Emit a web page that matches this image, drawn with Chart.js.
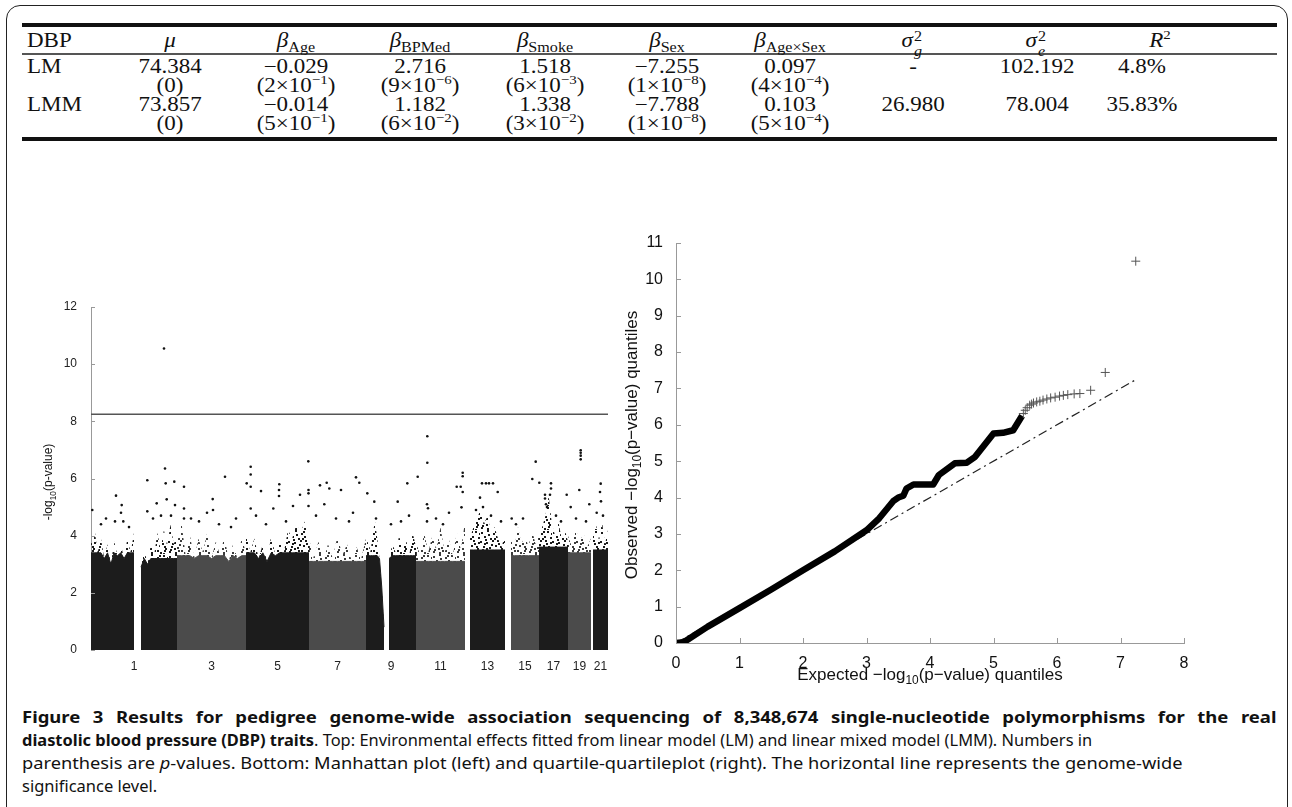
<!DOCTYPE html>
<html>
<head>
<meta charset="utf-8">
<script src="https://cdn.jsdelivr.net/npm/chart.js"></script>
<style>
body{margin:0;background:#fff;width:1292px;height:807px;overflow:hidden;position:relative;color:#111}
#frame{position:absolute;left:6px;top:5px;width:1280px;height:900px;border:1.5px solid #222;border-radius:14px}
.rule{position:absolute;left:22px;width:1255px;background:#111}
.cell{position:absolute;width:140px;margin-left:-70px;text-align:center;font:20px "Liberation Serif",serif;line-height:22px;white-space:nowrap;transform:scaleX(1.15)}
.cell.left{width:auto;margin-left:0;text-align:left;transform-origin:left center}
.cell sub{font-size:14px;vertical-align:-5px;line-height:0}
.cell sup{font-size:13px;vertical-align:8px;line-height:0}
.ss{display:inline-block;position:relative;width:10px;height:10px}
.ss .up{position:absolute;left:1px;top:-11px;font-size:14px}
.ss .dn{position:absolute;left:1px;top:4px;font-size:14px;font-style:italic}
.cap{position:absolute;left:22px;font:16.5px "Noto Sans",sans-serif;line-height:23px;white-space:nowrap;color:#111;transform-origin:left center}
.cap b{font-weight:700}
.cap.just{text-align:justify;text-align-last:justify}
canvas{position:absolute}
</style>
</head>
<body>
<div id="frame"></div>
<div class="rule" style="top:23px;height:4px"></div>
<div class="rule" style="top:53px;height:1.5px;background:#555"></div>
<div class="rule" style="top:137px;height:4px"></div>
<div id="table"></div>

<canvas id="manhattan" width="640" height="380" style="left:0;top:290px"></canvas>
<canvas id="qq" width="700" height="480" style="left:560px;top:220px"></canvas>

<div class="cap just" style="top:705px;width:1120px;transform:scaleX(1.12)"><b>Figure 3 Results for pedigree genome-wide association sequencing of 8,348,674 single-nucleotide polymorphisms for the real</b></div>
<div class="cap fit" style="top:728px"><b>diastolic blood pressure (DBP) traits</b>. Top: Environmental effects fitted from linear model (LM) and linear mixed model (LMM). Numbers in</div>
<div class="cap fit" style="top:751px">parenthesis are <i>p</i>-values. Bottom: Manhattan plot (left) and quartile-quartileplot (right). The horizontal line represents the genome-wide</div>
<div class="cap" style="top:774px">significance level.</div>

<script>
// ---- table ----
const colHeads = ['<i>μ</i>', '<i>β</i><sub>Age</sub>', '<i>β</i><sub>BPMed</sub>', '<i>β</i><sub>Smoke</sub>',
  '<i>β</i><sub>Sex</sub>', '<i>β</i><sub>Age×Sex</sub>',
  '<i>σ</i><span class="ss"><span class="up">2</span><span class="dn">g</span></span>',
  '<i>σ</i><span class="ss"><span class="up">2</span><span class="dn">e</span></span>',
  '<i>R</i><sup>2</sup>'];
const lmVals = ['74.384', '−0.029', '2.716', '1.518', '−7.255', '0.097', '-', '102.192', '4.8%'];
const lmP = ['(0)', '(2×10<sup>−1</sup>)', '(9×10<sup>−6</sup>)', '(6×10<sup>−3</sup>)', '(1×10<sup>−8</sup>)', '(4×10<sup>−4</sup>)', '', '', ''];
const lmmVals = ['73.857', '−0.014', '1.182', '1.338', '−7.788', '0.103', '26.980', '78.004', '35.83%'];
const lmmP = ['(0)', '(5×10<sup>−1</sup>)', '(6×10<sup>−2</sup>)', '(3×10<sup>−2</sup>)', '(1×10<sup>−8</sup>)', '(5×10<sup>−4</sup>)', '', '', ''];
const headX = [170, 296, 420, 545, 667, 790, 913, 1037, 1160];
const colX = [170, 296, 420, 545, 667, 790, 913, 1037, 1142];
const rowY = [40, 66, 85, 104, 123];

let html = '';
const put = (x, y, s, cls) => { html += `<div class="cell ${cls || ''}" style="left:${x}px;top:${y - 11}px">${s}</div>`; };
put(27, rowY[0], 'DBP', 'left');
put(27, rowY[1], 'LM', 'left');
put(27, rowY[3], 'LMM', 'left');
colHeads.forEach((s, i) => put(headX[i], rowY[0], s));
[lmVals, lmP, lmmVals, lmmP].forEach((row, r) => {
  row.forEach((s, i) => { if (s) put(colX[i], rowY[r + 1], s); });
});
document.getElementById('table').innerHTML = html;

// caption lines 2 and 3 stretched to the reference line lengths
const capWidths = [1070, 1161];
document.querySelectorAll('.cap.fit').forEach((el, i) => {
  el.style.transform = `scaleX(${capWidths[i] / el.scrollWidth})`;
});

// ---- manhattan data ----
const chrLabels = ['1', '3', '5', '7', '9', '11', '13', '15', '17', '19', '21'];
const chrLabelPos = [43, 120.5, 186.5, 246.5, 300, 349.5, 396.5, 434, 462.5, 488.5, 509.5];
const segStart = [0, 50, 86, 155, 218, 275, 298, 325, 379, 420, 448, 477, 502];
const segEnd   = [43, 86, 155, 218, 275, 293, 325, 374, 414, 448, 477, 500, 517];
const segShade = ['k', 'k', 'g', 'k', 'g', 'k', 'k', 'g', 'k', 'g', 'k', 'g', 'k'];
const segCore  = [3.4, 3.2, 3.3, 3.4, 3.1, 3.3, 3.3, 3.1, 3.5, 3.3, 3.6, 3.4, 3.5];
const segTops = [
  [3.7, 4.3, 3.4, 3.9, 3.2, 3.7, 3.0, 3.8, 3.3, 3.7, 3.2, 3.9, 3.4, 4.1],
  [2.9, 3.5, 3.0, 3.7, 3.3, 4.1, 3.5, 4.2, 3.6, 4.4, 3.7, 4.0],
  [3.7, 4.5, 3.3, 4.0, 3.2, 3.9, 3.4, 4.1, 3.2, 3.8, 3.3, 4.0, 3.1, 3.7, 3.2, 3.9, 3.4],
  [4.1, 3.4, 3.9, 3.2, 3.7, 3.1, 4.0, 3.3, 3.8, 3.4, 4.2, 3.9, 4.4, 4.1, 4.5, 3.7],
  [3.9, 3.2, 3.8, 3.1, 3.7, 3.2, 4.0, 3.3, 3.7, 3.1, 3.6, 3.2, 3.9],
  [3.6, 3.9, 3.4, 4.1, 4.5, 3.9, 3.2, 2.2, 0.8],
  [3.2, 3.7, 3.4, 4.0, 3.5, 3.9, 3.3, 4.1, 3.6],
  [3.8, 3.3, 4.1, 3.4, 4.0, 3.5, 4.3, 3.4, 3.9, 3.3, 4.1, 3.5, 4.5],
  [3.9, 4.3, 4.6, 4.9, 4.4, 4.7, 4.1, 4.3, 3.9, 3.6, 4.0],
  [4.1, 3.6, 4.3, 3.7, 4.0, 3.6, 4.2, 3.7, 4.0],
  [3.9, 4.3, 4.7, 5.4, 4.4, 4.0, 4.5, 3.9, 4.2, 3.8],
  [4.0, 3.6, 4.3, 3.7, 4.1, 3.6, 3.9],
  [4.0, 4.4, 3.8, 4.5, 3.7, 4.2]
];
const hits = [
  [1.3, 4.9], [25, 5.4], [30.7, 5.07], [30, 4.8], [24, 4.5], [32.3, 4.5], [56.3, 5.94], [56.3, 4.85], [65.7, 5.13],
  [73, 10.55], [74, 6.35], [74.7, 5.83], [75.7, 5.27], [83.3, 5.89], [84, 5.07], [93, 5.71], [93, 4.95], [93, 4.6],
  [121.7, 5.28], [122, 4.9], [134, 6.06], [116, 4.8], [155.7, 5.83], [159.7, 6.41], [159.7, 6.14], [159.7, 5.71],
  [159.7, 4.95], [170, 5.56], [182.3, 4.95], [188.3, 5.8], [188, 5.6], [188, 5.39], [202, 5.04], [209, 5.43],
  [217.3, 6.6], [217.5, 5.6], [217.5, 5.48], [217.5, 5.04], [229, 5.76], [235.7, 5.85], [238.3, 5.65], [233.3, 5.1],
  [250, 5.6], [265, 6.04], [268.3, 5.85], [276.3, 5.48], [283.3, 5.19], [300, 4.4], [306.7, 5.19], [316.3, 5.83],
  [326.7, 6.06], [336.3, 7.48], [336.3, 6.55], [336, 5.1], [337, 4.96], [336, 4.5], [365.7, 5.71], [369.7, 5.71],
  [371.7, 6.2], [371.7, 6.08], [371.7, 5.53], [370.5, 4.99], [389, 5.33], [391, 5.83], [395, 5.83], [398, 5.83],
  [402, 5.83], [406.7, 5.53], [392, 5.0], [420.7, 4.6], [441.3, 5.98], [444.7, 6.59], [448.3, 5.85], [454, 5.43],
  [454, 5.3], [455, 5.1], [456, 5.0], [460, 5.83], [460, 5.65], [459, 5.43], [475.7, 5.43], [479.7, 5.0],
  [488.3, 5.6], [489.7, 6.99], [489.7, 6.9], [489.7, 6.8], [489.7, 6.67], [498.3, 5.1], [505.7, 4.8], [509.7, 5.82],
  [509, 5.53], [510, 5.2],
  [10, 4.4], [15, 4.6], [38, 4.3], [62, 4.6], [70, 4.7], [80, 4.7], [100, 4.6], [108, 4.5], [128, 4.4], [140, 4.3],
  [145, 4.6], [165, 4.7], [175, 4.4], [195, 4.5], [225, 4.7], [245, 4.6], [258, 4.5], [262, 4.8], [285, 4.6],
  [310, 4.5], [318, 4.7], [345, 4.6], [352, 4.4], [358, 4.8], [385, 4.9], [400, 4.7], [410, 4.5], [425, 4.4],
  [432, 4.6], [465, 4.7], [470, 4.5], [485, 4.6], [495, 4.5], [512, 4.7]
];
const threshold = 8.25;

// ---- qq data ----
const qqExpected = [0, 0.12, 0.5, 1, 1.5, 2, 2.5, 3, 3.2, 3.42, 3.5, 3.58, 3.63, 3.74, 4.05, 4.14, 4.39, 4.58, 4.71, 5.0, 5.15, 5.31, 5.45];
const qqObserved = [0, 0.02, 0.45, 0.96, 1.47, 2.0, 2.52, 3.1, 3.43, 3.9, 4.0, 4.05, 4.25, 4.36, 4.36, 4.62, 4.94, 4.96, 5.12, 5.76, 5.78, 5.85, 6.25];
const tailExpected = [5.47, 5.5, 5.53, 5.57, 5.6, 5.63, 5.68, 5.73, 5.78, 5.84, 5.9, 5.97, 6.04, 6.1, 6.17, 6.27, 6.36, 6.53, 6.76, 7.24];
const tailObserved = [6.31, 6.4, 6.47, 6.54, 6.57, 6.6, 6.63, 6.65, 6.68, 6.71, 6.74, 6.76, 6.79, 6.81, 6.83, 6.85, 6.86, 6.95, 7.44, 10.5];
const refLine = [0, 7.22];

// ---- helpers ----
// speckle fill for the thinning upper edge of each chromosome band
function dotPattern(color) {
  const c = document.createElement('canvas'); c.width = 24; c.height = 24;
  const g = c.getContext('2d'); g.fillStyle = color;
  [[1, 2], [7, 0], [13, 3], [19, 1], [4, 6], [10, 8], [16, 6], [22, 7], [0, 11], [6, 12], [12, 10], [18, 13],
   [3, 16], [9, 17], [15, 15], [21, 18], [1, 21], [7, 22], [13, 20], [19, 23], [11, 14], [5, 9], [17, 10],
   [23, 3], [2, 19], [8, 4], [14, 8], [20, 16], [4, 13], [10, 20], [16, 22], [22, 12], [6, 18], [15, 1], [20, 20]]
    .forEach(p => g.fillRect(p[0], p[1], 2, 2));
  return g.createPattern(c, 'repeat');
}

function drawSub(ctx, x, y, rot, size, parts) {
  ctx.save();
  ctx.translate(x, y);
  ctx.rotate(rot);
  ctx.fillStyle = '#111';
  ctx.textBaseline = 'middle';
  let w = 0;
  parts.forEach(p => { ctx.font = `${p[1] ? size * 0.7 : size}px "Liberation Sans", Arial`; w += ctx.measureText(p[0]).width; });
  let cx = -w / 2;
  parts.forEach(p => {
    ctx.font = `${p[1] ? size * 0.7 : size}px "Liberation Sans", Arial`;
    ctx.fillText(p[0], cx, p[1] ? size * 0.35 : 0);
    cx += ctx.measureText(p[0]).width;
  });
  ctx.restore();
}

const axisDecor = {
  id: 'axisDecor',
  afterDraw(chart, args, o) {
    const ctx = chart.ctx, a = chart.chartArea;
    ctx.save();
    ctx.strokeStyle = '#999';
    ctx.lineWidth = 1;
    chart.scales.y.ticks.forEach(t => {
      const y = Math.round(chart.scales.y.getPixelForValue(t.value)) + 0.5;
      ctx.beginPath(); ctx.moveTo(a.left, y); ctx.lineTo(a.left + o.len, y); ctx.stroke();
    });
    if (o.xTicks) {
      chart.scales.x.ticks.forEach(t => {
        const x = Math.round(chart.scales.x.getPixelForValue(t.value)) + 0.5;
        ctx.beginPath(); ctx.moveTo(x, a.bottom); ctx.lineTo(x, a.bottom - o.len); ctx.stroke();
      });
    }
    ctx.restore();
    o.titles.forEach(t => drawSub(ctx, t.x, t.y, t.rot, t.size, t.parts));
  }
};

Chart.defaults.font.family = '"Liberation Sans", Arial, sans-serif';
Chart.defaults.color = '#111';

// ---- manhattan chart ----
const mDatasets = [];
mDatasets.push({
  type: 'scatter', order: 0,
  data: hits.map(h => ({ x: h[0], y: h[1] })),
  pointRadius: 1.3, pointBackgroundColor: '#111', pointBorderWidth: 0
});
mDatasets.push({
  type: 'line', order: 0,
  data: [{ x: 0, y: threshold }, { x: 517, y: threshold }],
  borderColor: '#555', borderWidth: 1.5, pointRadius: 0
});
const patK = dotPattern('#1a1a1a'), patG = dotPattern('#3c3c3c');
segStart.forEach((s, i) => {
  const tops = segTops[i], n = tops.length, e = segEnd[i];
  const xs = tops.map((v, j) => s + (e - s) * j / (n - 1));
  const dark = segShade[i] === 'k';
  mDatasets.push({
    type: 'line', order: 1,
    data: tops.map((v, j) => ({ x: xs[j], y: Math.min(v, segCore[i]) })),
    fill: 'origin', backgroundColor: dark ? '#1c1c1c' : '#4b4b4b',
    borderColor: dark ? '#1c1c1c' : '#4b4b4b', borderWidth: 1, pointRadius: 0, tension: 0
  });
  mDatasets.push({
    type: 'line', order: 2,
    data: tops.map((v, j) => ({ x: xs[j], y: v })),
    fill: 'origin', backgroundColor: dark ? patK : patG,
    borderWidth: 0, pointRadius: 0, tension: 0
  });
});

new Chart(document.getElementById('manhattan'), {
  type: 'scatter',
  data: { datasets: mDatasets },
  options: {
    responsive: false, animation: false, events: [],
    layout: { padding: { top: 17, right: 32, left: 0, bottom: 0 } },
    plugins: {
      legend: { display: false }, tooltip: { enabled: false },
      axisDecor: { len: 4, xTicks: false, titles: [
        { x: 49, y: 192, rot: -Math.PI / 2, size: 12, parts: [['-log', 0], ['10', 1], ['(p-value)', 0]] }
      ] }
    },
    scales: {
      x: {
        type: 'linear', min: 0, max: 517,
        grid: { display: false }, border: { display: false },
        afterBuildTicks: s => { s.ticks = chrLabelPos.map(v => ({ value: v })); },
        ticks: { autoSkip: false, maxRotation: 0, font: { size: 12 }, color: '#222', padding: 1,
          callback: (v, i) => chrLabels[i] },
        afterFit: s => { s.height = 20; }
      },
      y: {
        min: 0, max: 12,
        grid: { display: false }, border: { color: '#999', width: 1 },
        ticks: { stepSize: 2, font: { size: 12 }, color: '#222', padding: 6 },
        afterFit: s => { s.width = 91; }
      }
    }
  },
  plugins: [axisDecor]
});

// ---- qq chart ----
new Chart(document.getElementById('qq'), {
  type: 'scatter',
  data: {
    datasets: [
      {
        type: 'scatter', order: 0,
        data: tailExpected.map((v, i) => ({ x: v, y: tailObserved[i] })),
        pointStyle: 'cross', pointRadius: 4.5, borderColor: '#555', pointBorderColor: '#555', pointBorderWidth: 1
      },
      {
        type: 'line', order: 1,
        data: qqExpected.map((v, i) => ({ x: v, y: qqObserved[i] })),
        borderColor: '#000', borderWidth: 6.5, pointRadius: 0, tension: 0, borderJoinStyle: 'round'
      },
      {
        type: 'line', order: 2,
        data: [{ x: refLine[0], y: refLine[0] }, { x: refLine[1], y: refLine[1] }],
        borderColor: '#222', borderWidth: 1.2, borderDash: [9, 4, 2, 4], pointRadius: 0
      }
    ]
  },
  options: {
    responsive: false, animation: false, events: [],
    layout: { padding: { top: 23, right: 76, left: 0, bottom: 0 } },
    plugins: {
      legend: { display: false }, tooltip: { enabled: false },
      axisDecor: { len: 5, xTicks: true, titles: [
        { x: 72, y: 225, rot: -Math.PI / 2, size: 17, parts: [['Observed −log', 0], ['10', 1], ['(p−value) quantiles', 0]] },
        { x: 370, y: 455, rot: 0, size: 17, parts: [['Expected −log', 0], ['10', 1], ['(p−value) quantiles', 0]] }
      ] }
    },
    scales: {
      x: {
        type: 'linear', min: 0, max: 8,
        grid: { display: false }, border: { color: '#999', width: 1 },
        ticks: { stepSize: 1, font: { size: 16 }, color: '#111', padding: 3 },
        afterFit: s => { s.height = 57; }
      },
      y: {
        min: 0, max: 11,
        grid: { display: false }, border: { color: '#999', width: 1 },
        ticks: { stepSize: 1, font: { size: 16 }, color: '#111', padding: 5 },
        afterFit: s => { s.width = 116; }
      }
    }
  },
  plugins: [axisDecor]
});
</script>
</body>
</html>
